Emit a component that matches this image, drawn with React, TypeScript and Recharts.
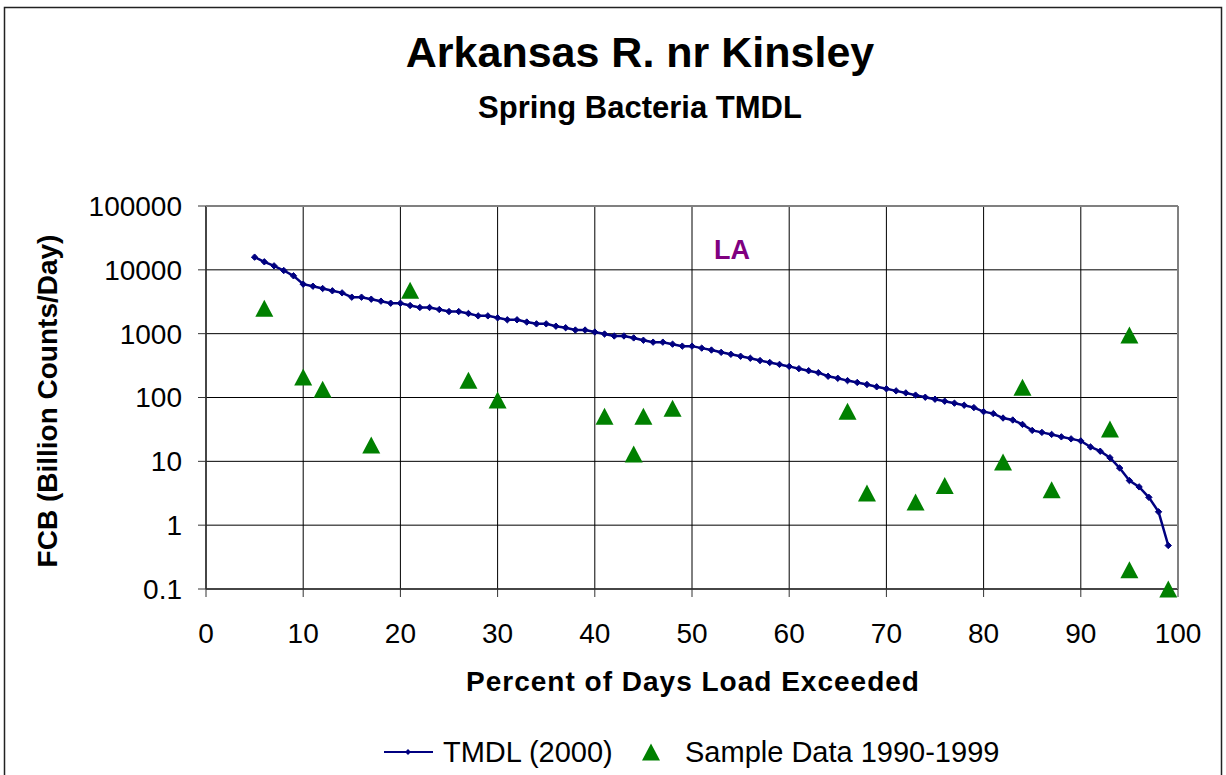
import React from 'react';
import { ComposedChart, Line, Scatter, XAxis, YAxis, CartesianGrid } from 'recharts';

const tmdlPercent = [
  5, 6, 7, 8, 9, 10, 11, 12, 13, 14, 15, 16, 17, 18, 19, 20, 21, 22, 23, 24,
  25, 26, 27, 28, 29, 30, 31, 32, 33, 34, 35, 36, 37, 38, 39, 40, 41, 42, 43, 44,
  45, 46, 47, 48, 49, 50, 51, 52, 53, 54, 55, 56, 57, 58, 59, 60, 61, 62, 63, 64,
  65, 66, 67, 68, 69, 70, 71, 72, 73, 74, 75, 76, 77, 78, 79, 80, 81, 82, 83, 84,
  85, 86, 87, 88, 89, 90, 91, 92, 93, 94, 95, 96, 97, 98, 99,
];
const tmdlLoad = [
  15800, 13350, 11550, 9760, 8060, 5960, 5540, 5100, 4690, 4360,
  3730, 3730, 3470, 3230, 3000, 3000, 2760, 2570, 2570, 2390,
  2220, 2220, 2070, 1900, 1900, 1770, 1650, 1650, 1520, 1425,
  1425, 1310, 1240, 1140, 1140, 1060, 988, 920, 920, 858,
  789, 736, 736, 685, 638, 638, 594, 554, 510, 475,
  443, 412, 379, 354, 330, 307, 283, 263, 245, 215,
  200, 184, 172, 160, 147, 137, 127, 118, 109, 101,
  94, 87.5, 81.5, 75.7, 69.5, 60, 55.9, 47.7, 44.4, 37.9,
  30.5, 28.4, 26.4, 24.2, 22.5, 20.9, 16.8, 14.4, 11.4, 7.85,
  5.0, 3.98, 2.73, 1.62, 0.48,
];

const samplePercent = [6, 10, 12, 17, 21, 27, 30, 41, 44, 45, 48, 66, 68, 73, 76, 82, 84, 87, 93, 95, 95, 99];
const sampleLoad = [2500, 210, 135, 18, 4800, 187, 91, 51, 13, 51, 68, 61, 3.2, 2.3, 4.2, 9.8, 145, 3.6, 32, 950, 0.2, 0.1];

const xTicks = [0, 10, 20, 30, 40, 50, 60, 70, 80, 90, 100];
const yTicks = [0.1, 1, 10, 100, 1000, 10000, 100000];

const tmdlData = tmdlPercent.map((x, i) => ({ x, y: tmdlLoad[i] }));
const sampleData = samplePercent.map((x, i) => ({ x, y: sampleLoad[i] }));

const FONT = '"Liberation Sans", Arial, Helvetica, sans-serif';
const NAVY = '#000080';
const GREEN = '#008000';

const W = 1226;
const H = 775;
const PL = 206;
const PR = 1178;
const PT = 206;
const PB = 589;

const Diamond = (props: any) => {
  const { cx, cy, index } = props;
  if (cx == null || cy == null) return <g key={`d${index}`} />;
  const r = 3.2;
  return (
    <path
      key={`d${index}`}
      d={`M${cx},${cy - r}L${cx + r},${cy}L${cx},${cy + r}L${cx - r},${cy}Z`}
      fill={NAVY}
      stroke={NAVY}
      strokeWidth={1}
    />
  );
};

const Triangle = (props: any) => {
  const { cx, cy } = props;
  if (cx == null || cy == null) return <g />;
  return <path d={`M${cx},${cy - 8.5}L${cx + 9},${cy + 8.5}L${cx - 9},${cy + 8.5}Z`} fill={GREEN} />;
};

const fmtY = (v: number) => (v < 1 ? String(v) : String(Math.round(v)));

export default function App() {
  return (
    <div style={{ position: 'absolute', left: 0, top: 0, width: W, height: H, background: '#fff', overflow: 'hidden' }}>
      <ComposedChart
        width={W}
        height={H}
        margin={{ top: PT, right: W - PR, bottom: H - PB - 60, left: 0 }}
      >
        <CartesianGrid stroke="#000" strokeWidth={1} fill="#fff" />
        <XAxis
          type="number"
          dataKey="x"
          domain={[0, 100]}
          ticks={xTicks}
          interval={0}
          height={60}
          tickSize={8}
          tickMargin={26}
          tick={{ fontSize: 28, fill: '#000', fontFamily: FONT }}
          axisLine={{ stroke: '#333', strokeWidth: 1.5 }}
          tickLine={{ stroke: '#333', strokeWidth: 1 }}
        />
        <YAxis
          type="number"
          dataKey="y"
          scale="log"
          domain={[0.1, 100000]}
          ticks={yTicks}
          interval={0}
          width={PL}
          tickSize={8}
          tickMargin={16}
          tickFormatter={fmtY}
          tick={{ fontSize: 28, fill: '#000', fontFamily: FONT }}
          axisLine={{ stroke: '#333', strokeWidth: 1.5 }}
          tickLine={{ stroke: '#333', strokeWidth: 1 }}
        />
        <Line
          data={tmdlData}
          dataKey="y"
          stroke={NAVY}
          strokeWidth={2.5}
          dot={Diamond}
          activeDot={false}
          isAnimationActive={false}
          legendType="none"
        />
        <Scatter data={sampleData} dataKey="y" fill={GREEN} shape={Triangle} isAnimationActive={false} />
      </ComposedChart>
      <svg
        width={W}
        height={H}
        style={{ position: 'absolute', left: 0, top: 0, pointerEvents: 'none' }}
        fontFamily={FONT}
      >
        <rect x={4.5} y={7.5} width={1217} height={820} fill="none" stroke="#222" strokeWidth={1.5} />
        <line x1={PL} y1={PT} x2={PR} y2={PT} stroke="#808080" strokeWidth={2} />
        <line x1={PR} y1={PT} x2={PR} y2={PB} stroke="#808080" strokeWidth={2} />
        <text x={640} y={67} textAnchor="middle" fontSize={43} fontWeight="bold" fill="#000">
          Arkansas R. nr Kinsley
        </text>
        <text x={640} y={118} textAnchor="middle" fontSize={31} fontWeight="bold" fill="#000">
          Spring Bacteria TMDL
        </text>
        <text x={732} y={259} textAnchor="middle" fontSize={27} fontWeight="bold" fill="#800080">
          LA
        </text>
        <text x={693} y={691} textAnchor="middle" fontSize={28} fontWeight="bold" fill="#000" letterSpacing={1}>
          Percent of Days Load Exceeded
        </text>
        <text
          x={57}
          y={401}
          textAnchor="middle"
          fontSize={28}
          fontWeight="bold"
          fill="#000"
          transform="rotate(-90, 57, 401)"
        >
          FCB (Billion Counts/Day)
        </text>
        <line x1={384} y1={752} x2={433} y2={752} stroke={NAVY} strokeWidth={2} />
        <path d="M408,749L411,752L408,755L405,752Z" fill={NAVY} />
        <text x={443} y={762} fontSize={29} fill="#000">
          TMDL (2000)
        </text>
        <path d="M651,743.5L660,760.5L642,760.5Z" fill={GREEN} />
        <text x={685} y={762} fontSize={29} fill="#000">
          Sample Data 1990-1999
        </text>
      </svg>
    </div>
  );
}
